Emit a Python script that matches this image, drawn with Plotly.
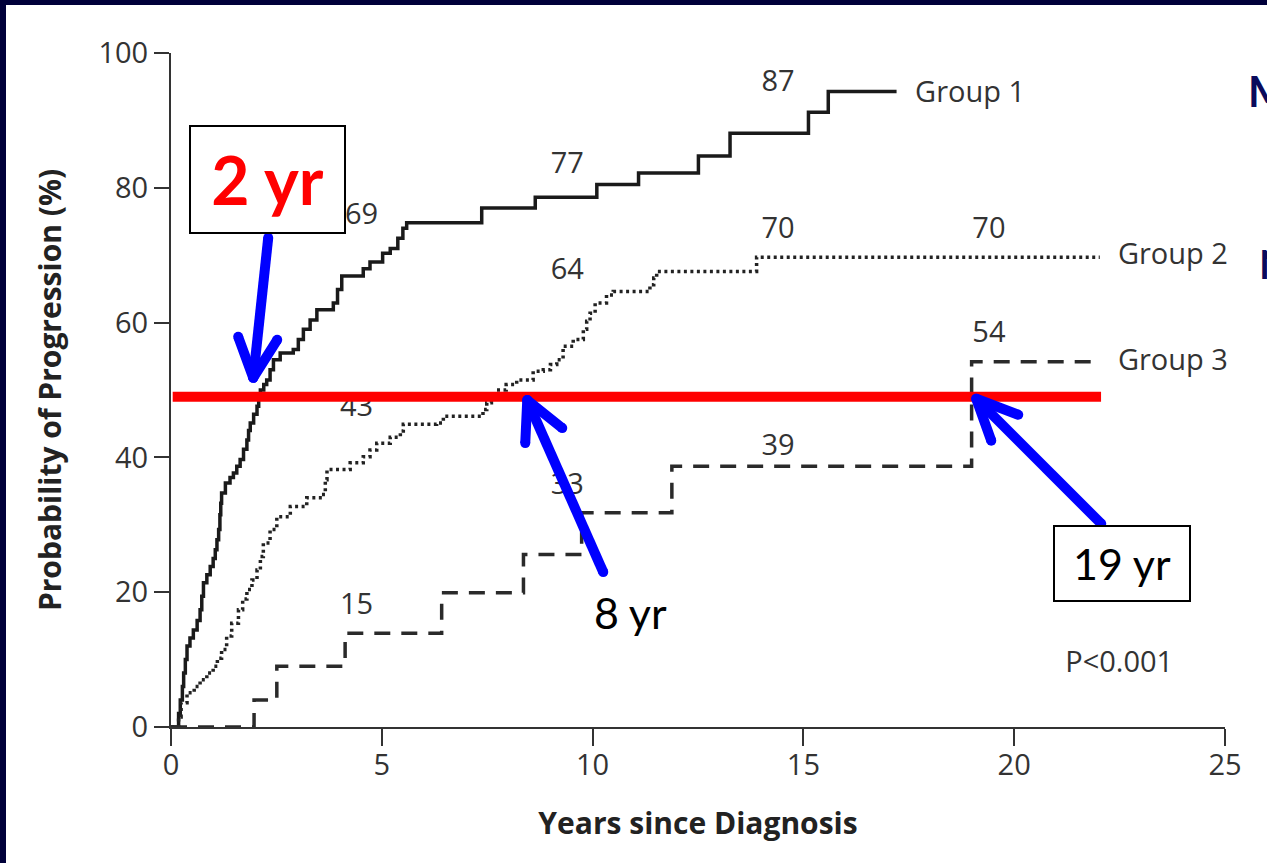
import plotly.graph_objects as go

# ---------------- data ----------------
x_ticks = [0, 5, 10, 15, 20, 25]
y_ticks = [0, 20, 40, 60, 80, 100]

# Group 1 cumulative probability of progression (%), step function
g1_years = [0, 0.18, 0.22, 0.27, 0.30, 0.34, 0.38, 0.45, 0.53, 0.62, 0.69, 0.73,
            0.77, 0.85, 0.93, 1.00, 1.05, 1.09, 1.13, 1.16, 1.18, 1.20, 1.29,
            1.40, 1.48, 1.56, 1.64, 1.72, 1.80, 1.84, 1.88, 1.96, 2.04, 2.08,
            2.12, 2.20, 2.27, 2.35, 2.43, 2.59, 2.90, 3.02, 3.14, 3.30, 3.46,
            3.85, 3.95, 4.05, 4.56, 4.72, 5.02, 5.20, 5.38, 5.50, 5.59, 7.37,
            8.64, 10.10, 11.09, 12.51, 13.26, 15.12, 15.59, 17.21]
g1_prob = [0, 2.0, 4.0, 6.0, 8.0, 10.0, 12.0, 13.2, 14.4, 15.8, 17.4, 19.4,
           21.4, 22.6, 23.8, 25.0, 26.3, 27.8, 29.3, 31.5, 33.2, 34.7, 36.2,
           37.0, 37.7, 38.7, 39.7, 41.2, 42.6, 44.0, 45.1, 46.4, 47.6, 48.8,
           50.0, 50.8, 51.5, 53.0, 54.5, 55.5, 56.0, 57.5, 59.0, 60.4, 61.9,
           62.9, 64.9, 66.9, 68.0, 69.0, 70.3, 71.0, 72.5, 74.0, 74.8, 77.0,
           78.6, 80.5, 82.2, 84.7, 88.1, 91.2, 94.3, 94.3]

# Group 2
g2_years = [0, 0.18, 0.24, 0.38, 0.55, 0.69, 0.85, 1.00, 1.10, 1.20, 1.32, 1.44,
            1.60, 1.70, 1.80, 1.92, 2.04, 2.12, 2.19, 2.35, 2.51, 2.83, 3.22,
            3.58, 3.66, 3.70, 4.25, 4.56, 4.72, 4.88, 5.20, 5.44, 5.51, 6.30,
            6.46, 7.40, 7.49, 7.60, 7.73, 7.95, 8.20, 8.59, 8.83, 9.00, 9.15,
            9.30, 9.54, 9.78, 9.86, 9.94, 10.06, 10.33, 10.49, 11.36, 11.45,
            11.52, 13.89, 22.03]
g2_prob = [0, 1.5, 3.6, 5.1, 6.0, 7.0, 8.0, 9.0, 10.2, 11.5, 13.5, 15.4,
           17.4, 19.0, 20.4, 21.8, 23.3, 25.3, 27.3, 29.3, 31.2, 32.7, 34.0,
           34.5, 36.7, 38.2, 39.2, 40.1, 41.1, 42.1, 43.0, 43.9, 44.9, 45.1,
           46.1, 47.1, 48.1, 49.0, 50.0, 50.8, 51.5, 52.8, 53.0, 53.8, 54.5,
           56.5, 57.5, 59.0, 60.2, 61.4, 62.9, 64.1, 64.6, 65.6, 66.6,
           67.6, 69.7, 69.7]

# Group 3
g3_years = [0, 1.97, 2.51, 4.13, 6.42, 8.36, 9.74, 11.88, 18.99, 22.00]
g3_prob = [0, 4.0, 9.0, 13.9, 19.9, 25.6, 31.8, 38.7, 54.2, 54.2]

# probabilities quoted at 5, 10, 15 and 20 years
g1_mark_years = [5, 10, 15]
g1_mark_vals = [69, 77, 87]
g2_mark_years = [5, 10, 15, 20]
g2_mark_vals = [43, 64, 70, 70]
g3_mark_years = [5, 10, 15, 20]
g3_mark_vals = [15, 33, 39, 54]

group_names = ["Group 1", "Group 2", "Group 3"]

# 50% progression reference and the time each group reaches it
half_level = 49
half_years = [1.95, 8.45, 19.1]
half_labels = ["2 yr", "8 yr", "19 yr"]

# ---------------- layout geometry ----------------
W, H = 1267, 863
ML, MR, MT, MB = 171, 42, 53, 136
PW, PH = W - ML - MR, H - MT - MB
XR, YR = [0, 25], [0, 100]


def dx(px):
    return px * (XR[1] - XR[0]) / PW


def dy(py):
    return -py * (YR[1] - YR[0]) / PH


def paper_x(px):
    return (px - ML) / PW


def paper_y(py):
    return (H - MB - py) / PH


INK = "#333333"
LABEL_FONT = dict(family="Open Sans", size=29, color=INK)
TEXT_DROP = dy(3.5)   # nudge so digit centres sit where intended

fig = go.Figure()

# survival-type step curves
fig.add_trace(go.Scatter(x=g1_years, y=g1_prob, mode="lines", line_shape="hv",
                         line=dict(color="#1a1a1a", width=3.5), name=group_names[0]))
fig.add_trace(go.Scatter(x=g2_years, y=g2_prob, mode="lines", line_shape="hv",
                         line=dict(color="#222222", width=3.5, dash="3px,3.5px"),
                         name=group_names[1]))
fig.add_trace(go.Scatter(x=g3_years, y=g3_prob, mode="lines", line_shape="hv",
                         line=dict(color="#2a2a2a", width=3.5, dash="16px,11px"),
                         name=group_names[2]))

# numeric probabilities printed above the curves
mark_x_shift = {
    0: [dx(5), 0, 0],
    1: [0, 0, 0, 0],
    2: [0, 0, 0, 0],
}
mark_offsets = {
    0: [7.2, 6.8, 8.9],
    1: [4.7, 4.0, 4.2, 4.2],
    2: [3.3, 3.2, 3.0, 4.7],
}
for gi, (yrs, vals) in enumerate([(g1_mark_years, g1_mark_vals),
                                  (g2_mark_years, g2_mark_vals),
                                  (g3_mark_years, g3_mark_vals)]):
    fig.add_trace(go.Scatter(
        x=[t - 0.6 + s for t, s in zip(yrs, mark_x_shift[gi])],
        y=[v + o + TEXT_DROP for v, o in zip(vals, mark_offsets[gi])],
        mode="text", text=[str(v) for v in vals],
        textposition="middle center", textfont=LABEL_FONT,
        cliponaxis=False, hoverinfo="skip"))

# group names at the end of each curve
ends_x = [g1_years[-1] + 0.44, g2_years[-1] + 0.43, g3_years[-1] + 0.46]
ends_y = [g1_prob[-1] + TEXT_DROP, g2_prob[-1] + 0.6 + TEXT_DROP,
          g3_prob[-1] + 0.3 + TEXT_DROP]
fig.add_trace(go.Scatter(x=ends_x, y=ends_y, mode="text", text=group_names,
                         textposition="middle right", textfont=LABEL_FONT,
                         cliponaxis=False, hoverinfo="skip"))

fig.add_trace(go.Scatter(x=[22.49], y=[9.7 + TEXT_DROP], mode="text", text=["P<0.001"],
                         textposition="middle center", textfont=LABEL_FONT,
                         cliponaxis=False, hoverinfo="skip"))

# red 50% line
fig.add_trace(go.Scatter(x=[0.04, 22.06], y=[half_level, half_level], mode="lines",
                         line=dict(color="#ff0000", width=10), hoverinfo="skip"))

# blue arrows: tip offset (pixels) of tail and the two chevron arms
arrow_geom = [
    dict(tip_y=51.8, tail=(15, -140), arms=[(-15, -41), (24, -38)]),
    dict(tip_y=48.5, tail=(76, 172), arms=[(-2, 43), (35, 28)]),
    dict(tip_y=48.7, tail=(125, 125), arms=[(15, 42), (42, 16)]),
]
for yr, g in zip(half_years, arrow_geom):
    tx, ty = yr, g["tip_y"]
    xs = [tx + dx(g["tail"][0]), tx, None,
          tx + dx(g["arms"][0][0]), tx, tx + dx(g["arms"][1][0])]
    ys = [ty + dy(g["tail"][1]), ty, None,
          ty + dy(g["arms"][0][1]), ty, ty + dy(g["arms"][1][1])]
    fig.add_trace(go.Scatter(x=xs, y=ys, mode="lines+markers",
                             line=dict(color="#0000ff", width=10),
                             marker=dict(color="#0000ff", size=10, line=dict(width=0)),
                             hoverinfo="skip", cliponaxis=False))

annotations = [
    # boxed callouts
    dict(x=paper_x(267.5), y=paper_y(179.5), xref="paper", yref="paper",
         xanchor="center", yanchor="middle",
         text="<b>" + half_labels[0] + "</b>", showarrow=False, width=153, height=105,
         font=dict(family="Lato", size=66, color="#ff0000"),
         bgcolor="#ffffff", bordercolor="#000000", borderwidth=2, borderpad=0),
    dict(x=paper_x(1122), y=paper_y(563.5), xref="paper", yref="paper",
         xanchor="center", yanchor="middle",
         text=half_labels[2], showarrow=False, width=134, height=73,
         font=dict(family="Lato", size=43, color="#000000"),
         bgcolor="#ffffff", bordercolor="#000000", borderwidth=2, borderpad=0),
    dict(x=paper_x(630), y=paper_y(612), xref="paper", yref="paper",
         xanchor="center", yanchor="middle",
         text=half_labels[1], showarrow=False,
         font=dict(family="Lato", size=43, color="#000000")),
    # slide text running off the right edge
    dict(x=paper_x(1246), y=paper_y(91), xref="paper", yref="paper",
         xanchor="left", yanchor="middle", text="<b>M</b>", showarrow=False,
         font=dict(family="Lato", size=42, color="#0a0a5c")),
    dict(x=paper_x(1257), y=paper_y(264), xref="paper", yref="paper",
         xanchor="left", yanchor="middle", text="<b>N</b>", showarrow=False,
         font=dict(family="Lato", size=40, color="#0a0a5c")),
]

shapes = [
    # white slide panel inside the dark frame
    dict(type="rect", xref="paper", yref="paper", layer="below",
         x0=paper_x(6), x1=paper_x(W + 5), y0=paper_y(5), y1=paper_y(H + 5),
         fillcolor="#ffffff", line=dict(width=0)),
]

TITLE_FONT = dict(family="Open Sans", size=30, color="#222222", weight="bold")

fig.update_layout(
    width=W, height=H,
    margin=dict(l=ML, r=MR, t=MT, b=MB, pad=0),
    paper_bgcolor="#00003a", plot_bgcolor="#ffffff",
    showlegend=False,
    annotations=annotations, shapes=shapes,
    xaxis=dict(range=XR, tickvals=x_ticks, ticktext=[str(v) for v in x_ticks],
               showgrid=False, zeroline=False, showline=True, linecolor=INK,
               linewidth=2, ticks="outside", ticklen=17, tickwidth=2, tickcolor=INK,
               tickfont=LABEL_FONT, ticklabelstandoff=-6,
               title=dict(text="Years since Diagnosis", standoff=31, font=TITLE_FONT)),
    yaxis=dict(range=YR, tickvals=y_ticks, ticktext=[str(v) for v in y_ticks],
               showgrid=False, zeroline=False, showline=True, linecolor=INK,
               linewidth=2, ticks="outside", ticklen=15, tickwidth=2, tickcolor=INK,
               tickfont=LABEL_FONT,
               title=dict(text="Probability of Progression (%)", standoff=28,
                          font=TITLE_FONT)),
)

fig.write_html("out.html", config={"displayModeBar": False})
